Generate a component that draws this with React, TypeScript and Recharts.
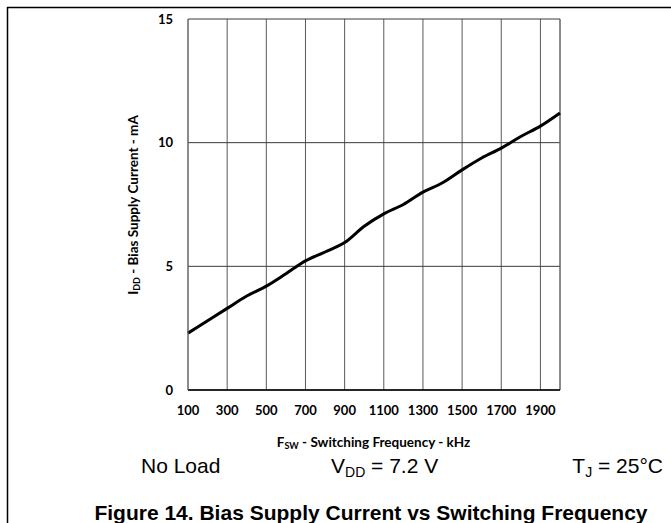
import React from 'react';
import { LineChart, Line, XAxis, YAxis, CartesianGrid, ReferenceLine } from 'recharts';

const freqKHz = [100, 200, 300, 400, 500, 600, 700, 800, 900, 1000, 1100, 1200, 1300, 1400, 1500, 1600, 1700, 1800, 1900, 2000];
const biasCurrentMA = [2.3, 2.8, 3.3, 3.8, 4.2, 4.7, 5.22, 5.58, 5.96, 6.62, 7.12, 7.5, 8.0, 8.38, 8.9, 9.38, 9.78, 10.25, 10.67, 11.2];
const xTicks = [100, 300, 500, 700, 900, 1100, 1300, 1500, 1700, 1900];
const yTicks = [0, 5, 10, 15];

const data = freqKHz.map((f, i) => ({ f, i: biasCurrentMA[i] }));

const tickFont = { fontFamily: 'Lato, "Open Sans", sans-serif', fontWeight: 700, fontSize: 13, fill: '#000' };

const renderXLabel = () => (
  <text x={373.5} y={447} textAnchor="middle" fontFamily='Lato, "Open Sans", sans-serif' fontWeight={700} fontSize={13.5} fill="#000">
    F<tspan fontSize={9} dy={2}>SW</tspan>
    <tspan dy={-2}> - Switching Frequency - kHz</tspan>
  </text>
);

const renderYLabel = () => (
  <text
    x={138}
    y={205}
    transform="rotate(-90 138 205)"
    textAnchor="middle"
    fontFamily='Lato, "Open Sans", sans-serif'
    fontWeight={700}
    fontSize={13.5}
    fill="#000"
  >
    I<tspan fontSize={9} dy={2}>DD</tspan>
    <tspan dy={-2}> - Bias Supply Current - mA</tspan>
  </text>
);

export default function App() {
  return (
    <div style={{ position: 'absolute', left: 0, top: 0, width: 671, height: 523, background: '#fff' }}>
      <LineChart width={671} height={523} data={data} margin={{ top: 19, right: 111, bottom: 103, left: 0 }}>
        <CartesianGrid horizontal={false} stroke="#5a5a5a" strokeWidth={1} />
        <CartesianGrid vertical={false} stroke="#3a3a3a" strokeWidth={1} />
        <XAxis
          dataKey="f"
          type="number"
          domain={[100, 2000]}
          ticks={xTicks}
          interval={0}
          height={30}
          tickLine={false}
          tickMargin={10}
          axisLine={{ stroke: '#000', strokeWidth: 1.5 }}
          tick={tickFont}
          label={renderXLabel}
        />
        <YAxis
          type="number"
          domain={[0, 15]}
          ticks={yTicks}
          interval={0}
          width={188}
          tickLine={false}
          tickMargin={9}
          axisLine={{ stroke: '#6a6a6a', strokeWidth: 1 }}
          tick={tickFont}
          label={renderYLabel}
        />
        <ReferenceLine x={2000} stroke="#6a6a6a" strokeWidth={1} />
        <Line
          type="monotone"
          dataKey="i"
          stroke="#000"
          strokeWidth={3}
          dot={false}
          isAnimationActive={false}
        />
      </LineChart>
      <svg
        width={671}
        height={523}
        style={{ position: 'absolute', left: 0, top: 0, pointerEvents: 'none' }}
      >
        <line x1={7} y1={7.5} x2={671} y2={7.5} stroke="#000" strokeWidth={1.5} />
        <line x1={7.5} y1={7} x2={7.5} y2={523} stroke="#000" strokeWidth={1.5} />
        <g fontFamily='"Liberation Sans", Arial, sans-serif' fontSize={21} fill="#000">
          <text x={141} y={473}>No Load</text>
          <text x={331} y={473}>
            V<tspan fontSize={14} dy={4}>DD</tspan>
            <tspan dy={-4}> = 7.2 V</tspan>
          </text>
          <text x={663} y={473} textAnchor="end">
            T<tspan fontSize={14} dy={4}>J</tspan>
            <tspan dy={-4}> = 25°C</tspan>
          </text>
        </g>
        <text
          x={371}
          y={520}
          textAnchor="middle"
          fontFamily='"Liberation Sans", Arial, sans-serif'
          fontWeight={700}
          fontSize={21}
          fill="#000"
        >
          Figure 14. Bias Supply Current vs Switching Frequency
        </text>
      </svg>
    </div>
  );
}
